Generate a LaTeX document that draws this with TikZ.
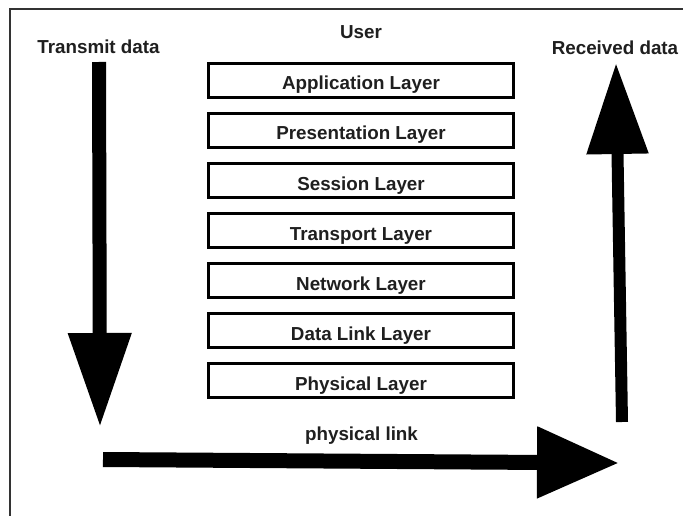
\documentclass[tikz,border=0pt]{standalone}
\usepackage{fontspec}
\setmainfont{Liberation Sans}
\usetikzlibrary{arrows.meta}
\begin{document}
\begin{tikzpicture}[x=1pt,y=-1pt,
  layerbox/.style={draw=black, line width=3pt, minimum width=305pt, minimum height=34pt,
    inner sep=0pt, text height=19pt, text depth=0pt, font=\fontsize{18.8}{22}\selectfont\bfseries, text=black!88},
  lbl/.style={anchor=base, inner sep=0pt, font=\fontsize{18.8}{22}\selectfont\bfseries, text=black!88}]
\useasboundingbox (0,0) rectangle (683,516);
\fill[white] (0,0) rectangle (683,516);
% frame
\draw[line width=1.5pt, black!80] (10,516) -- (10,9) -- (683,9);
% layers
\node[layerbox] (app)  at (361,80.5)  {Application Layer};
\node[layerbox] (pres) at (361,130.5) {Presentation Layer};
\node[layerbox] (sess) at (361,180.5) {Session Layer};
\node[layerbox] (tran) at (361,230.5) {Transport Layer};
\node[layerbox] (net)  at (361,280.5) {Network Layer};
\node[layerbox] (dll)  at (361,330.5) {Data Link Layer};
\node[layerbox] (phy)  at (361,380.5) {Physical Layer};
% labels
\node[lbl] (user) at (361,39) {User};
\node[lbl] (tx) at (98.5,54) {Transmit data};
\node[lbl] (rx) at (615,55) {Received data};
\node[lbl] (plink) at (361.5,440) {physical link};
% arrow coordinates
\coordinate (txs) at (99,62);
\coordinate (txe) at (100,427);
\coordinate (pls) at (103,459.5);
\coordinate (ple) at (619,463);
\coordinate (rxs) at (622,422);
\coordinate (rxe) at (616,63);
\draw[line width=14pt, -{Triangle[width=60pt,length=94pt]}] (txs) -- (txe);
\draw[line width=15pt, -{Triangle[width=68pt,length=82pt]}] (pls) -- (ple);
\draw[line width=12pt, -{Triangle[width=59pt,length=91pt]}] (rxs) -- (rxe);
\end{tikzpicture}
\end{document}
